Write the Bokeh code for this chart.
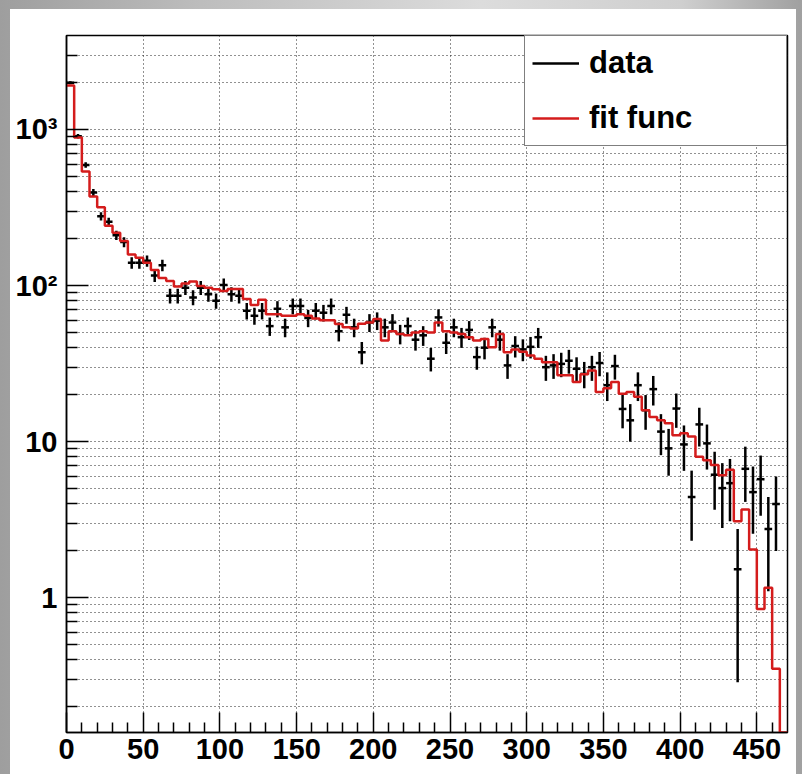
import numpy as np
from bokeh.plotting import figure
from bokeh.models import FixedTicker, Legend, LegendItem, Range1d
from bokeh.embed import file_html
from bokeh.resources import INLINE

# ---------------- data ----------------
bin_width = 5
x_min, x_max = 0, 470
y_min, y_max = 0.137, 4000

# red "fit func" histogram, bins [0,5), [5,10), ... [465,470)
fit_counts = [
    1915, 889, 537, 372, 318, 242, 218, 193, 158, 151,
    140, 126, 112, 107, 98.6, 103, 106, 99.5, 97, 94.7,
    92.4, 95, 95, 81.9, 75, 81, 65.6, 65.6, 64, 64,
    65.6, 64, 61.6, 60, 60, 56.7, 54, 53, 57, 58,
    61, 44.4, 51, 49, 48, 50, 51, 50, 58, 51,
    50, 49, 46.7, 44.4, 45.5, 40.3, 49, 37.4, 39, 37.7,
    35.7, 34, 32.3, 32.3, 26.6, 26.6, 24.1, 27, 28.6, 20.8,
    22, 24.1, 20.3, 20.8, 19.4, 15.9, 14.4, 13.7, 13.1, 11,
    11.3, 10.8, 8.0, 7.6, 7.1, 6.1, 6.6, 3.09, 3.67, 2.04,
    0.847, 1.16, 0.351, 0.05,
]

# black "data" points, bins [0,5) ... [460,465)
data_counts = [
    1990, 905, 593, 395, 278, 256, 210, 190, 140, 140,
    144, 116, 135, 86, 86, 97, 84, 97, 88, 80,
    101, 88, 86, 69, 64, 69, 55, 71, 54, 74,
    74, 62, 69, 67, 74, 51, 65, 54, 37.4, 58,
    59.6, 54, 58, 49, 55, 45, 48, 34, 62.5, 43,
    54, 46.7, 52, 34.8, 40, 54, 45, 30.8, 41, 39,
    40.5, 46.7, 30, 30.8, 31.5, 33, 29.3, 27.2, 30, 31.9,
    23, 30.5, 16.2, 13.7, 23, 15.9, 21.7, 11.6, 9.06, 16.3,
    9.6, 4.42, 12.9, 9.75, 6.14, 5.04, 5.42, 1.52, 6.7, 4.75,
    5.75, 2.76, 3.99,
]

x_major_ticks = [0, 50, 100, 150, 200, 250, 300, 350, 400, 450]
x_minor_ticks = [10, 20, 30, 40, 60, 70, 80, 90, 110, 120, 130, 140, 160, 170, 180, 190,
                 210, 220, 230, 240, 260, 270, 280, 290, 310, 320, 330, 340, 360, 370,
                 380, 390, 410, 420, 430, 440, 460]
y_major_ticks = [1, 10, 100, 1000]
y_major_labels = ["1", "10", "10\u00b2", "10\u00b3"]
y_minor_ticks = [0.2, 0.3, 0.4, 0.5, 0.6, 0.7, 0.8, 0.9,
                 2, 3, 4, 5, 6, 7, 8, 9,
                 20, 30, 40, 50, 60, 70, 80, 90,
                 200, 300, 400, 500, 600, 700, 800, 900,
                 2000, 3000]

# ---------------- derived arrays ----------------
fit = np.array(fit_counts, dtype=float)
fit_lo = np.arange(len(fit)) * bin_width
fit_shown = np.maximum(fit, y_min)          # ROOT draws under-range content on the frame bottom
step_x = np.append(fit_lo, fit_lo[-1] + bin_width)
step_y = np.append(fit_shown, fit_shown[-1])

dat = np.array(data_counts, dtype=float)
dat_lo = np.arange(len(dat)) * bin_width
dat_hi = dat_lo + bin_width
dat_c = dat_lo + bin_width / 2
dat_err = np.sqrt(dat)                      # Poisson error bars as drawn

FONT = "Liberation Sans"
RED = "#d41c1c"
GRID = "#222222"

p = figure(width=802, height=774,
           x_range=Range1d(x_min, x_max), y_range=Range1d(y_min, y_max),
           y_axis_type="log", output_backend="svg", toolbar_location=None,
           min_border_left=66, min_border_right=15, min_border_top=35, min_border_bottom=42)

p.border_fill_color = None
p.background_fill_color = "white"
p.outline_line_color = "black"
p.outline_line_width = 1.5
p.styles = {
    "background": "linear-gradient(#ffffff,#ffffff) 10px 9px / 786px 765px no-repeat, "
                  "linear-gradient(90deg, #9e9e9e 0%, #bdbdbd 25%, #dcdcdc 60%, #cfcfcf 85%, #a0a0a0 100%)"
}

# data error bars
r_data = p.segment(x0=dat_lo, y0=dat, x1=dat_hi, y1=dat, line_color="black", line_width=2.5)
p.segment(x0=dat_c, y0=dat - dat_err, x1=dat_c, y1=dat + dat_err, line_color="black", line_width=2.5)

# fit histogram
r_fit = p.step(x=step_x, y=step_y, mode="after", line_color=RED, line_width=2.5)

# axes
for ax in (p.xaxis[0], p.yaxis[0]):
    ax.axis_line_color = "black"
    ax.axis_line_width = 1.5
    ax.major_tick_line_color = "black"
    ax.minor_tick_line_color = "black"
    ax.major_tick_line_width = 1.5
    ax.minor_tick_line_width = 1.5
    ax.major_tick_out = 0
    ax.minor_tick_out = 0
    ax.major_label_text_font = FONT
    ax.major_label_text_font_style = "bold"
    ax.major_label_text_font_size = "29px"
    ax.major_label_text_color = "black"

p.xaxis.ticker = FixedTicker(ticks=x_major_ticks, minor_ticks=x_minor_ticks)
p.xaxis.major_tick_in = 20
p.xaxis.minor_tick_in = 10
p.xaxis.major_label_standoff = 6

p.yaxis.ticker = FixedTicker(ticks=y_major_ticks, minor_ticks=y_minor_ticks)
p.yaxis.major_label_overrides = {t: lab for t, lab in zip(y_major_ticks, y_major_labels)}
p.yaxis.major_tick_in = 22
p.yaxis.minor_tick_in = 11
p.yaxis.major_label_standoff = 9

# grids (dotted)
for g in (p.xgrid[0], p.ygrid[0]):
    g.grid_line_color = GRID
    g.grid_line_dash = "1 3"
    g.grid_line_width = 1
p.ygrid.minor_grid_line_color = GRID
p.ygrid.minor_grid_line_dash = "1 3"
p.ygrid.minor_grid_line_width = 1

legend = Legend(
    items=[LegendItem(label="data", renderers=[r_data]),
           LegendItem(label="fit func", renderers=[r_fit])],
    location="top_right", margin=0, padding=7, spacing=15,
    glyph_width=47, glyph_height=40, label_height=40, label_width=190, label_standoff=10,
    label_text_font=FONT, label_text_font_style="bold", label_text_font_size="31px",
    label_text_color="black",
    border_line_color="black", border_line_width=1.5,
    background_fill_color="white", background_fill_alpha=1.0,
)
p.add_layout(legend)

open("out.html", "w").write(file_html(p, INLINE))
